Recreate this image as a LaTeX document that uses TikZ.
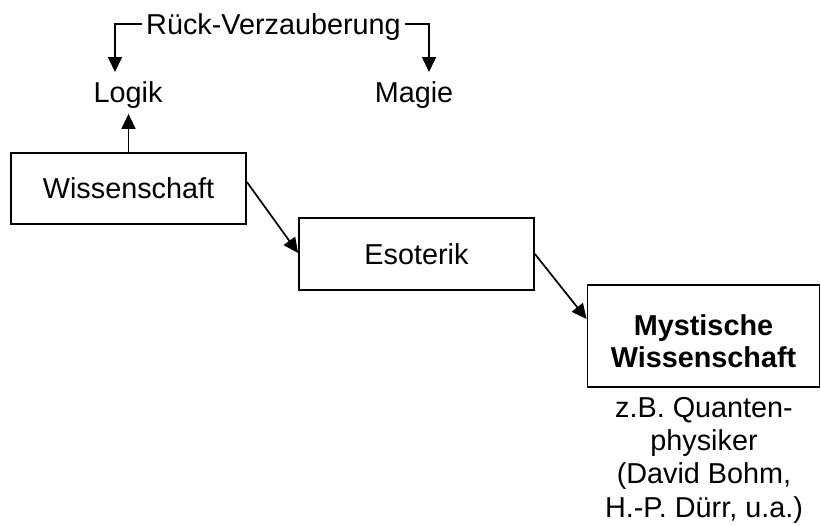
\documentclass[tikz,border=0pt]{standalone}
\usepackage{fontspec}
\setmainfont{Liberation Sans}
\usetikzlibrary{arrows.meta}
\begin{document}
\begin{tikzpicture}[x=1pt,y=-1pt,
  font=\fontsize{28.8}{33.3}\selectfont,
  line width=1.8pt,
  box/.style={draw, rectangle, inner sep=0pt},
  arr/.style={-{Triangle[length=15pt,width=14pt]}, line width=1.7pt},
  lbl/.style={anchor=base, inner sep=0pt}]
\useasboundingbox (0,0) rectangle (821,525);
% boxes
\node[box, minimum width=235pt, minimum height=71pt] (w) at (128.5,188.5) {Wissenschaft};
\node[box, minimum width=235pt, minimum height=72pt] (e) at (416.5,254) {Esoterik};
\node[box, minimum width=232pt, minimum height=102pt] (m) at (703.5,336) {};
\node[lbl, align=center, font=\fontsize{28.8}{32}\selectfont\bfseries] (mtxt) at (703.5,367) {Mystische\\Wissenschaft};
% labels
\node[lbl] (l) at (128,102) {Logik};
\node[lbl] (g) at (414,102) {Magie};
\node[anchor=base, inner xsep=3.5pt, inner ysep=0pt] (rv) at (273.5,34) {Rück-Verzauberung};
\node[lbl, align=center] (q) at (704,517) {z.B. Quanten-\\physiker\\(David Bohm,\\H.-P. Dürr, u.a.)};
% connectors
\coordinate (lt) at (115,72);
\coordinate (mt) at (429,72);
\draw[arr] ([yshift=2.5pt]rv.west) -| (lt);
\draw[arr] ([yshift=2.5pt]rv.east) -| (mt);
\draw[arr, shorten >=5pt] (w.north) -- (w.north |- l.south);
\draw[arr] ([yshift=6.5pt]w.east) -- ([yshift=1pt]e.west);
\draw[arr] (e.east) -- ([yshift=17pt]m.west);
\end{tikzpicture}
\end{document}
